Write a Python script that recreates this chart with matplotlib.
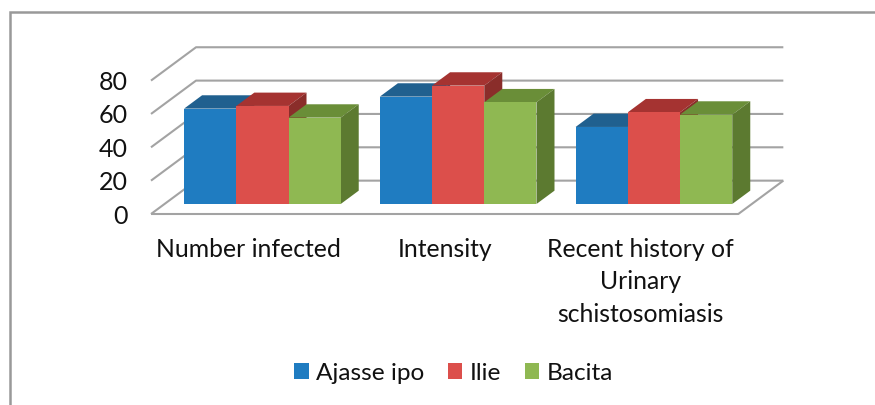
import matplotlib
matplotlib.use("Agg")
import matplotlib.pyplot as plt
from matplotlib.patches import Polygon, Patch

categories = ["Number infected", "Intensity", "Recent history of\nUrinary\nschistosomiasis"]
series_names = ["Ajasse ipo", "Ilie", "Bacita"]
ajasse_ipo = [57.2, 64.4, 46.2]
ilie = [58.8, 71.0, 55.0]
bacita = [51.8, 61.0, 53.6]
y_ticks = [0, 20, 40, 60, 80]

front_colors = ["#1f7cc1", "#dc4f4b", "#8fb852"]
top_colors = ["#20608f", "#a53331", "#6a8e38"]
side_colors = ["#185a8c", "#8a2d2a", "#5c7a30"]
grid_color = "#a3a3a3"

# fake 3d: the back wall sits this far from the front, in axis units
depth_x = 0.23
depth_y = 20
bar_w = 0.2667
gap = 0.1

plt.rcParams["font.family"] = ["Lato", "DejaVu Sans"]
fig = plt.figure(figsize=(8.75, 4.05), dpi=100)
ax = fig.add_axes([151 / 875, (405 - 214) / 405, 587.3 / 875, 133.4 / 405])
ax.set_xlim(0, 3)
ax.set_ylim(0, 80)
for s in ax.spines.values():
    s.set_visible(False)
ax.patch.set_alpha(0)

ax.set_yticks(y_ticks)
ax.set_xticks([0.5, 1.5, 2.5])
ax.set_xticklabels(categories, linespacing=1.5)
ax.tick_params(axis="y", length=0, pad=17, labelsize=18, labelcolor="#111111")
ax.tick_params(axis="x", length=0, pad=17, labelsize=17.8, labelcolor="#111111")

for v in y_ticks:
    ax.plot([0, depth_x, 3 + depth_x], [v, v + depth_y, v + depth_y],
            color=grid_color, lw=1.5, clip_on=False, zorder=1, solid_capstyle="butt")
ax.plot([0, 3, 3 + depth_x], [0, 0, depth_y], color=grid_color, lw=1.5,
        clip_on=False, zorder=1, solid_capstyle="butt")


def bar3d(x, v, j, z):
    # bars stand in the middle 40% of the floor
    x0 = x + 0.3 * depth_x
    y0 = 0.3 * depth_y
    dx = 0.4 * depth_x
    dy = 0.4 * depth_y
    x1 = x0 + bar_w
    y1 = y0 + v
    ax.add_patch(Polygon([(x0, y1), (x1, y1), (x1 + dx, y1 + dy), (x0 + dx, y1 + dy)],
                         fc=top_colors[j], ec="none", clip_on=False, zorder=z))
    ax.add_patch(Polygon([(x1, y0), (x1 + dx, y0 + dy), (x1 + dx, y1 + dy), (x1, y1)],
                         fc=side_colors[j], ec="none", clip_on=False, zorder=z))
    ax.add_patch(Polygon([(x0, y0), (x1, y0), (x1, y1), (x0, y1)],
                         fc=front_colors[j], ec="none", clip_on=False, zorder=z))


z = 2
for i in range(3):
    for j, vals in enumerate([ajasse_ipo, ilie, bacita]):
        bar3d(i + gap + j * bar_w, vals[i], j, z)
        z += 1

handles = [Patch(fc=c, ec="none") for c in front_colors]
fig.legend(handles, series_names, loc="center", bbox_to_anchor=(453.5 / 875, 1 - 373 / 405),
           ncol=3, frameon=False, fontsize=17.6, labelcolor="#111111",
           handlelength=0.61, handleheight=0.61, handletextpad=0.3, columnspacing=0.95)

# outer frame, only left and top are in the picture
fig.add_artist(plt.Line2D([9.5 / 875, 9.5 / 875, 1], [0, 1 - 11.5 / 405, 1 - 11.5 / 405],
                          color="#999999", lw=1.8, solid_joinstyle="miter"))

fig.savefig("out.png", dpi=100)
